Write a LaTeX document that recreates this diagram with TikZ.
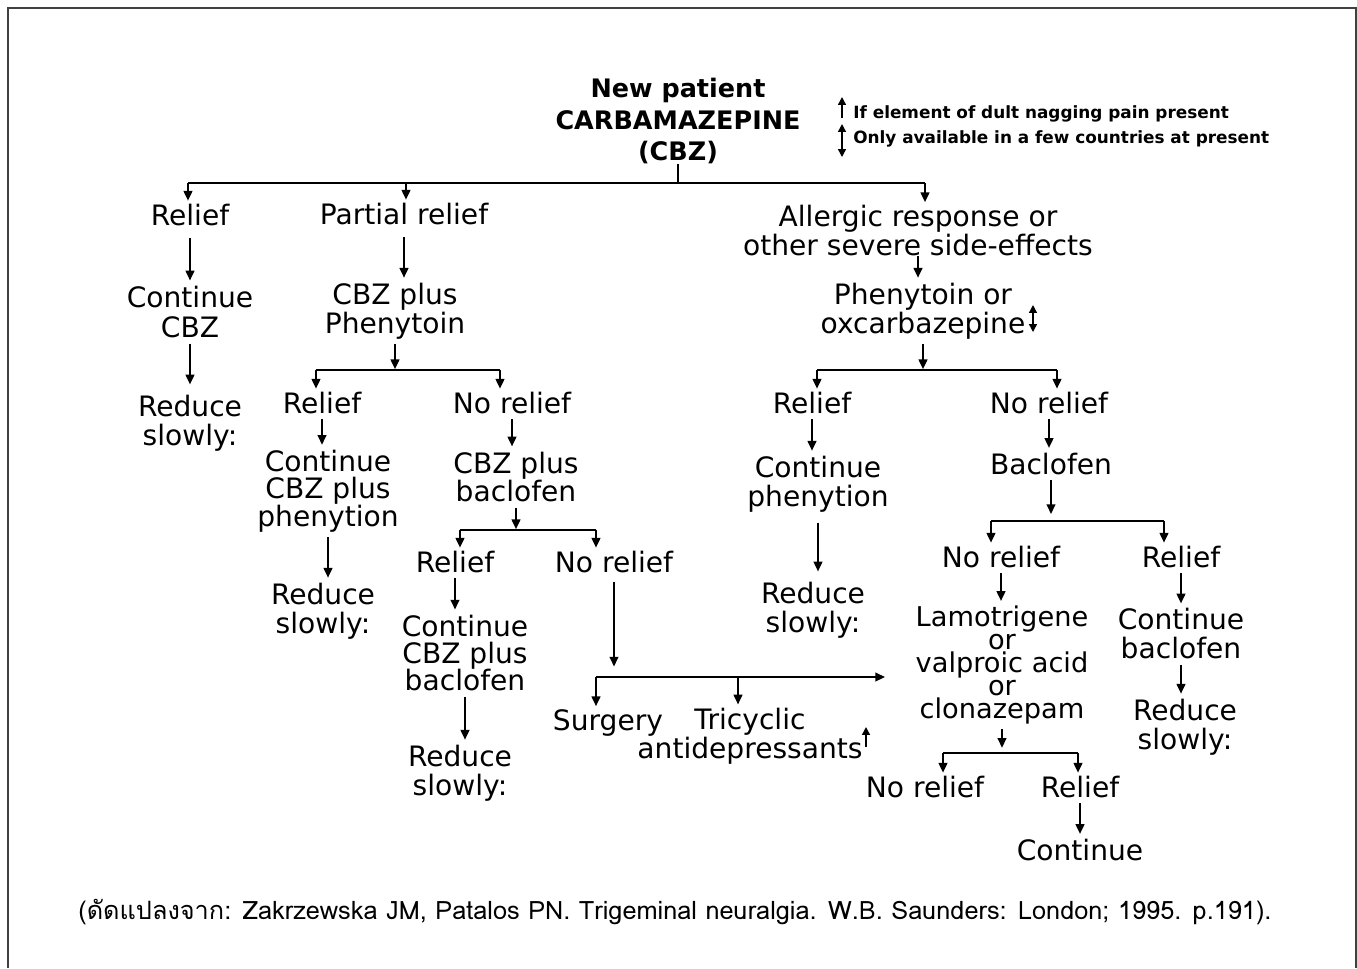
\documentclass[tikz,border=0pt]{standalone}
\usepackage{fontspec}
\setmainfont{DejaVu Sans}
\newfontfamily\thaifont[Script=Thai]{Loma}
\usetikzlibrary{arrows.meta}
\newcommand\tightfont{\fontsize{15.5}{13}\selectfont\lineskiplimit=-100pt\relax}
\tikzset{
  txt/.style={inner sep=0pt,outer sep=0pt,align=center,font=\fontsize{16}{16.5}\selectfont},
  lnk/.style={line width=0.9pt},
  arr/.style={lnk,-{Triangle[length=5.5pt,width=5pt]},shorten <=3pt,shorten >=3pt},
  drop/.style={lnk,-{Triangle[length=5.5pt,width=5pt]},shorten >=2pt},
  upmark/.style={line width=0.8pt,-{Triangle[length=4.5pt,width=4.5pt]}},
  udmark/.style={line width=0.8pt,{Triangle[length=4.5pt,width=4.5pt]}-{Triangle[length=4.5pt,width=4.5pt]}},
  legend/.style={inner sep=0pt,anchor=west,font=\bfseries\fontsize{9.6}{11}\selectfont}
}
\begin{document}
\begin{tikzpicture}[x=0.02cm,y=-0.02cm]
\useasboundingbox (0,0) rectangle (1357,968);
\draw [line width=1pt,black!75] (8,968) -- (8,8) -- (1356,8) -- (1356,968);

% title and key
\node [txt,font=\bfseries\fontsize{14.5}{18}\selectfont] (title) at (678,121) {New patient\\CARBAMAZEPINE\\(CBZ)};
\node [legend] (leg1) at (853,114) {If element of dult nagging pain present};
\node [legend] (leg2) at (853,139) {Only available in a few countries at present};
\draw [upmark] (842,118) -- (842,97);
\draw [udmark] (842,124) -- (842,157);

% first split
\node [txt] (relA) at (190,215) {Relief};
\node [txt] (partial) at (404,214) {Partial relief};
\node [txt] (allergic) at (918,231) {Allergic response or\\other severe side-effects};
\coordinate (b1a) at (188,183);
\coordinate (b1b) at (406,183);
\coordinate (b1c) at (925,183);
\draw [lnk] (title.south) -- (title.south |- b1a);
\draw [lnk] (b1a) -- (b1c);
\draw [drop] (b1a) -- (b1a |- relA.north);
\draw [drop] (b1b) -- (b1b |- partial.north);
\draw [drop] (b1c) -- (b1c |- allergic.north);

% relief
\node [txt,font=\fontsize{16}{17.6}\selectfont] (contA) at (190,312) {Continue\\CBZ};
\node [txt] (redA) at (190,423) {Reduce\\slowly:};
\draw [arr,shorten <=7pt] (relA.south) -- (relA.south |- contA.north);
\draw [arr,shorten >=6pt] (contA.south) -- (contA.south |- redA.north);

% partial relief
\node [txt,font=\fontsize{16}{15.3}\selectfont] (cbzPh) at (395,311) {CBZ plus\\Phenytoin};
\draw [arr,shorten <=7pt] (partial.south) -- (partial.south |- cbzPh.north);
\coordinate (b2a) at (316,370);
\coordinate (b2b) at (500,370);
\draw [arr,shorten >=0.5pt] (cbzPh.south) -- (cbzPh.south |- b2a);
\draw [lnk] (b2a) -- (b2b);
\node [txt] (relB) at (322,403) {Relief};
\node [txt] (norelB) at (512,403) {No relief};
\draw [drop] (b2a) -- (b2a |- relB.north);
\draw [drop] (b2b) -- (b2b |- norelB.north);
\node [txt,font=\fontsize{16}{15.6}\selectfont] (contB) at (328,491) {Continue\\CBZ plus\\phenytion};
\node [txt] (redB) at (323,611) {Reduce\\slowly:};
\draw [arr] (relB.south) -- (relB.south |- contB.north);
\draw [arr] (contB.south) -- (contB.south |- redB.north);
\node [txt,font=\fontsize{16}{15.3}\selectfont] (cbzBac) at (516,477) {CBZ plus\\baclofen};
\draw [arr] (norelB.south) -- (norelB.south |- cbzBac.north);
\coordinate (b3a) at (460,530);
\coordinate (b3b) at (596,530);
\draw [arr,shorten >=0.5pt] (cbzBac.south) -- (cbzBac.south |- b3a);
\draw [lnk] (b3a) -- (b3b);
\node [txt] (relC) at (455,562) {Relief};
\node [txt] (norelC) at (614,562) {No relief};
\draw [drop] (b3a) -- (b3a |- relC.north);
\draw [drop] (b3b) -- (b3b |- norelC.north);
\node [txt,font=\fontsize{16}{15.6}\selectfont] (contC) at (465,653) {Continue\\CBZ plus\\baclofen};
\node [txt] (redC) at (460,773) {Reduce\\slowly:};
\draw [arr] (relC.south) -- (relC.south |- contC.north);
\draw [arr] (contC.south) -- (contC.south |- redC.north);

% surgery / tricyclics
\coordinate (b4a) at (596,677);
\coordinate (b4b) at (738,677);
\coordinate (b4end) at (885,677);
\draw [arr,shorten <=5pt,shorten >=6pt] (norelC.south) -- (norelC.south |- b4a);
\draw [lnk,-{Triangle[length=5.5pt,width=5pt]}] (b4a) -- (b4end);
\node [txt] (surg) at (608,723) {Surgery};
\node [txt] (tricyc) at (750,736) {Tricyclic\\antidepressants};
\draw [drop] (b4a) -- (b4a |- surg.north);
\draw [drop] (b4b) -- (b4b |- tricyc.north);
\draw [upmark] (866,747) -- (866,727);

% allergic response
\node [txt,font=\fontsize{16}{15.3}\selectfont] (phen) at (923,311) {Phenytoin or\\oxcarbazepine};
\draw [udmark] (1033,305) -- (1033,332);
\draw [arr,shorten <=0pt] (allergic.south) -- (allergic.south |- phen.north);
\coordinate (b5a) at (817,370);
\coordinate (b5b) at (1057,370);
\draw [arr,shorten >=0.5pt] (phen.south) -- (phen.south |- b5a);
\draw [lnk] (b5a) -- (b5b);
\node [txt] (relD) at (812,403) {Relief};
\node [txt] (norelD) at (1049,403) {No relief};
\draw [drop] (b5a) -- (b5a |- relD.north);
\draw [drop] (b5b) -- (b5b |- norelD.north);
\node [txt] (contD) at (818,484) {Continue\\phenytion};
\node [txt] (redD) at (813,610) {Reduce\\slowly:};
\draw [arr] (relD.south) -- (relD.south |- contD.north);
\draw [arr,shorten <=6pt,shorten >=6pt] (contD.south) -- (contD.south |- redD.north);
\node [txt] (bacl) at (1051,464) {Baclofen};
\draw [arr] (norelD.south) -- (norelD.south |- bacl.north);
\coordinate (b6a) at (991,521);
\coordinate (b6b) at (1164,521);
\draw [arr,shorten >=4pt] (bacl.south) -- (bacl.south |- b6a);
\draw [lnk] (b6a) -- (b6b);
\node [txt] (norelE) at (1001,557) {No relief};
\node [txt] (relE) at (1181,557) {Relief};
\draw [drop] (b6a) -- (b6a |- norelE.north);
\draw [drop] (b6b) -- (b6b |- relE.north);
\node [txt,font=\tightfont] (lamo) at (1002,665) {Lamotrigene\\or\\valproic acid\\or\\clonazepam};
\draw [arr] (norelE.south) -- (norelE.south |- lamo.north);
\coordinate (b7a) at (943,753);
\coordinate (b7b) at (1078,753);
\draw [arr,shorten >=3pt] (lamo.south) -- (lamo.south |- b7a);
\draw [lnk] (b7a) -- (b7b);
\node [txt] (norelF) at (925,787) {No relief};
\node [txt] (relF) at (1080,787) {Relief};
\draw [drop] (b7a) -- (b7a |- norelF.north);
\draw [drop] (b7b) -- (b7b |- relF.north);
\node [txt] (contF) at (1080,850) {Continue};
\draw [arr] (relF.south) -- (relF.south |- contF.north);
\node [txt] (contE) at (1181,634) {Continue\\baclofen};
\node [txt] (redE) at (1185,727) {Reduce\\slowly:};
\draw [arr] (relE.south) -- (relE.south |- contE.north);
\draw [arr] (contE.south) -- (contE.south |- redE.north);

% source
\node [inner sep=0pt,font=\thaifont\fontsize{14.4}{16}\selectfont] (src) at (675,912) {(ดัดแปลงจาก: Zakrzewska JM, Patalos PN. Trigeminal neuralgia. W.B. Saunders: London; 1995. p.191).};
\end{tikzpicture}
\end{document}
